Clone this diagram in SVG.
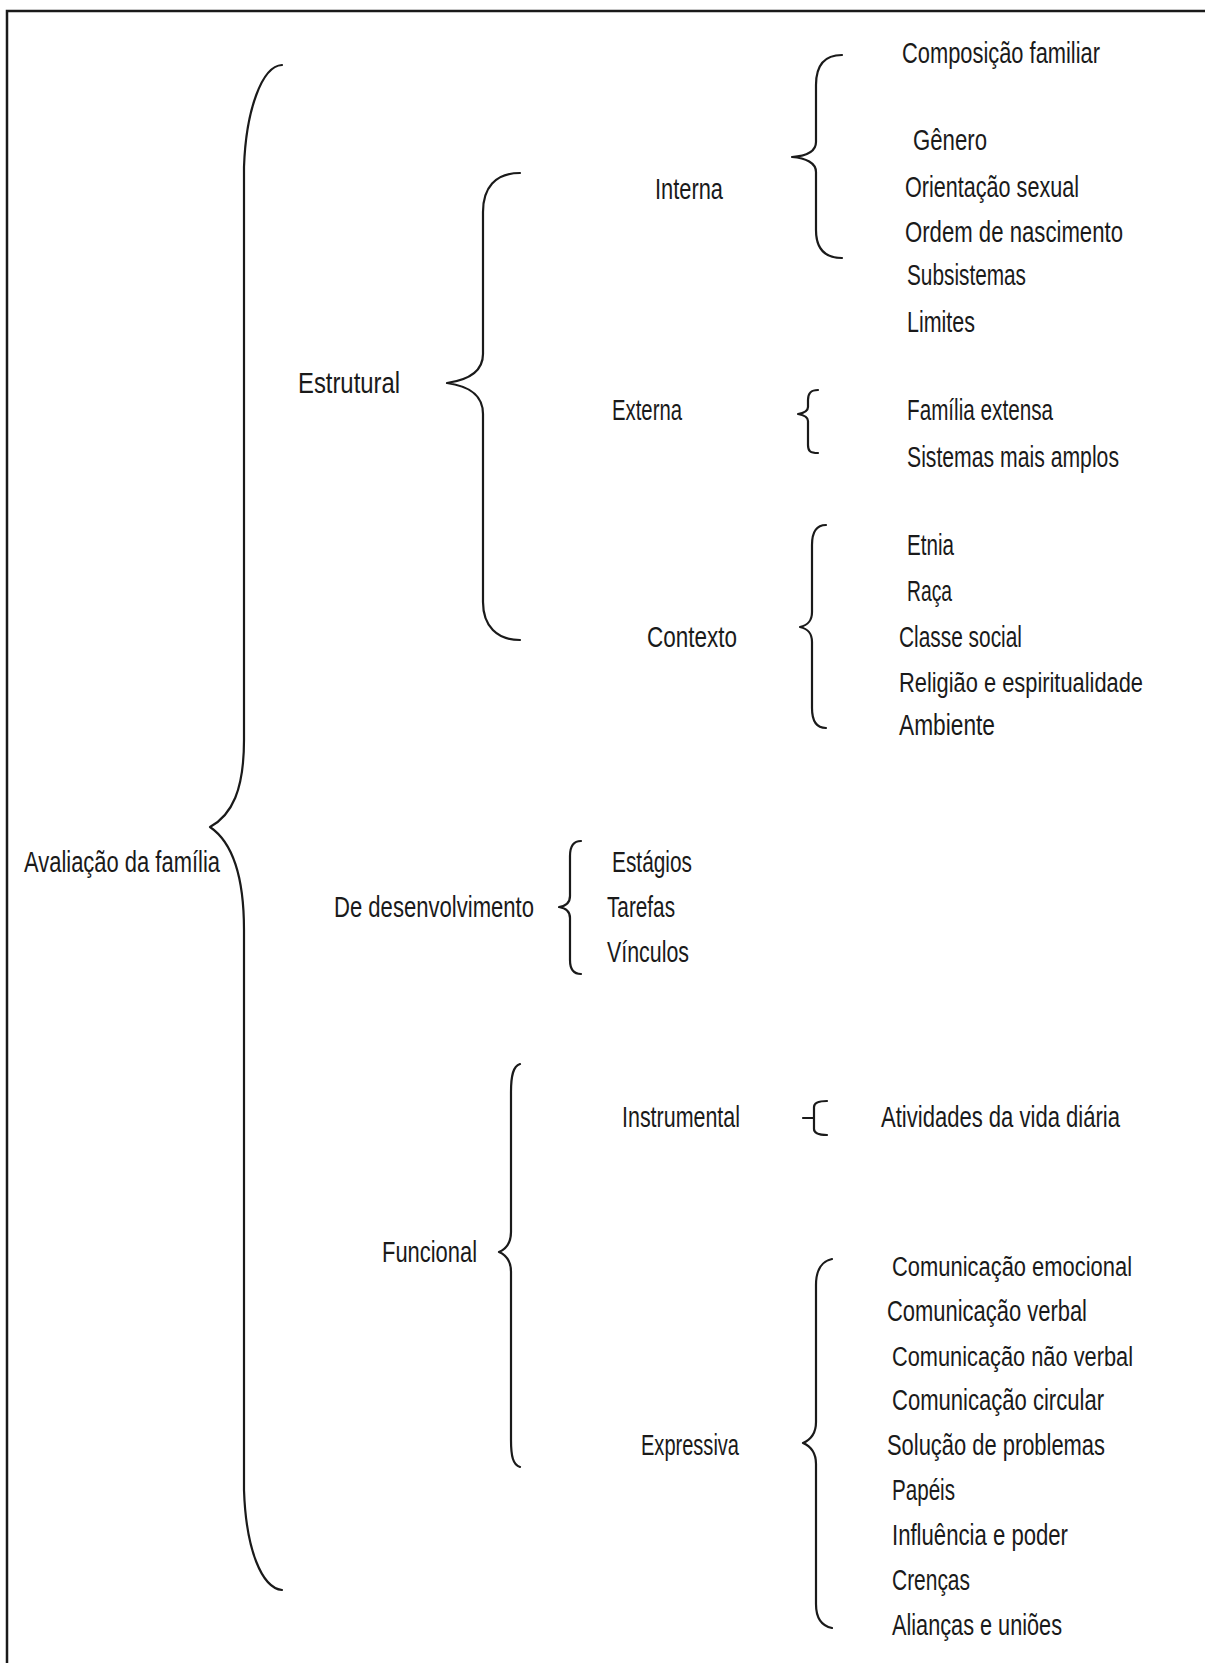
<svg xmlns="http://www.w3.org/2000/svg" width="1205" height="1663" viewBox="0 0 1205 1663">
  <style>
    text { font-family: "Liberation Sans", Arial, sans-serif; font-size: 29px; fill: #1a1a1a; }
    text.long { font-size: 27px; }
    .brace { fill: none; stroke: #1a1a1a; stroke-width: 2.2; stroke-linecap: round; stroke-linejoin: round; }
    .frame { fill: none; stroke: #1a1a1a; stroke-width: 2.5; }
  </style>
  <rect width="1205" height="1663" fill="#ffffff"/>

  <!-- page frame (top and left rules) -->
  <path class="frame" d="M7,1663 L7,11 L1205,11"/>

  <!-- braces linking each level to the next -->
  <g id="connectors">
    <!-- Avaliação da família -->
    <path class="brace" d="M282,65 C262,66 246,110 244,167 L244,740 C244,790 232,815 210,827 C232,842 244,875 244,930 L244,1490 C246,1550 262,1588 282,1590"/>
    <!-- Estrutural -->
    <path class="brace" d="M520,173 C495,173 483,188 483,212 L483,354 C483,372 468,380 447,383 C468,386 483,394 483,414 L483,602 C483,626 497,640 520,640"/>
    <!-- Interna -->
    <path class="brace" d="M842,55 C822,55 816,68 816,85 L816,142 C816,152 806,156 792,157 C806,158 816,163 816,172 L816,230 C816,248 824,258 842,258"/>
    <!-- Externa -->
    <path class="brace" d="M818,390 C810,390 808,394 808,400 L808,407 C808,411 804,413 798,414 C804,415 808,417 808,421 L808,445 C808,451 810,453 818,453"/>
    <!-- Contexto -->
    <path class="brace" d="M826,525 C816,525 812,532 812,545 L812,612 C812,621 808,625 800,627 C808,629 812,633 812,642 L812,708 C812,721 816,728 826,728"/>
    <!-- De desenvolvimento -->
    <path class="brace" d="M581,841 C573,841 570,847 570,856 L570,896 C570,902 566,906 559,907 C566,908 570,912 570,918 L570,960 C570,969 573,974 581,974"/>
    <!-- Funcional -->
    <path class="brace" d="M520,1064 C513,1066 511,1076 511,1092 L511,1232 C511,1243 506,1249 499,1252 C506,1255 511,1261 511,1272 L511,1440 C511,1456 513,1465 520,1467"/>
    <!-- Instrumental -->
    <path class="brace" d="M827,1101 C818,1101 814,1103 814,1107 L814,1129 C814,1133 818,1135 827,1135 M803,1118 L814,1118"/>
    <!-- Expressiva -->
    <path class="brace" d="M832,1259 C822,1261 816,1270 816,1285 L816,1422 C816,1434 810,1440 803,1443 C810,1446 816,1452 816,1464 L816,1604 C816,1618 822,1626 832,1628"/>
  </g>

  <g id="avaliacao"><text x="24" y="872" textLength="196" lengthAdjust="spacingAndGlyphs">Avaliação da família</text></g>

  <g id="estrutural"><text x="298" y="393" textLength="102" lengthAdjust="spacingAndGlyphs">Estrutural</text></g>
  <g id="interna"><text x="655" y="199" textLength="68" lengthAdjust="spacingAndGlyphs">Interna</text></g>
  <g id="interna-itens">
    <text x="902" y="63" textLength="198" lengthAdjust="spacingAndGlyphs">Composição familiar</text>
    <text x="913" y="150" textLength="74" lengthAdjust="spacingAndGlyphs">Gênero</text>
    <text x="905" y="197" textLength="174" lengthAdjust="spacingAndGlyphs">Orientação sexual</text>
    <text x="905" y="242" textLength="218" lengthAdjust="spacingAndGlyphs">Ordem de nascimento</text>
    <text x="907" y="285" textLength="119" lengthAdjust="spacingAndGlyphs">Subsistemas</text>
    <text x="907" y="332" textLength="68" lengthAdjust="spacingAndGlyphs">Limites</text>
  </g>
  <g id="externa"><text x="612" y="420" textLength="70" lengthAdjust="spacingAndGlyphs">Externa</text></g>
  <g id="externa-itens">
    <text x="907" y="420" textLength="146" lengthAdjust="spacingAndGlyphs">Família extensa</text>
    <text x="907" y="467" textLength="212" lengthAdjust="spacingAndGlyphs">Sistemas mais amplos</text>
  </g>
  <g id="contexto"><text x="647" y="647" textLength="90" lengthAdjust="spacingAndGlyphs">Contexto</text></g>
  <g id="contexto-itens">
    <text x="907" y="555" textLength="47" lengthAdjust="spacingAndGlyphs">Etnia</text>
    <text x="907" y="601" textLength="45" lengthAdjust="spacingAndGlyphs">Raça</text>
    <text x="899" y="647" textLength="123" lengthAdjust="spacingAndGlyphs">Classe social</text>
    <text class="long" x="899" y="692" textLength="244" lengthAdjust="spacingAndGlyphs">Religião e espiritualidade</text>
    <text x="899" y="735" textLength="96" lengthAdjust="spacingAndGlyphs">Ambiente</text>
  </g>

  <g id="desenvolvimento"><text x="334" y="917" textLength="200" lengthAdjust="spacingAndGlyphs">De desenvolvimento</text></g>
  <g id="desenvolvimento-itens">
    <text x="612" y="872" textLength="80" lengthAdjust="spacingAndGlyphs">Estágios</text>
    <text x="607" y="917" textLength="68" lengthAdjust="spacingAndGlyphs">Tarefas</text>
    <text x="607" y="962" textLength="82" lengthAdjust="spacingAndGlyphs">Vínculos</text>
  </g>

  <g id="funcional"><text x="382" y="1262" textLength="95" lengthAdjust="spacingAndGlyphs">Funcional</text></g>
  <g id="instrumental"><text x="622" y="1127" textLength="118" lengthAdjust="spacingAndGlyphs">Instrumental</text></g>
  <g id="instrumental-itens">
    <text x="881" y="1127" textLength="239" lengthAdjust="spacingAndGlyphs">Atividades da vida diária</text>
  </g>
  <g id="expressiva"><text x="641" y="1455" textLength="98" lengthAdjust="spacingAndGlyphs">Expressiva</text></g>
  <g id="expressiva-itens">
    <text class="long" x="892" y="1276" textLength="240" lengthAdjust="spacingAndGlyphs">Comunicação emocional</text>
    <text x="887" y="1321" textLength="200" lengthAdjust="spacingAndGlyphs">Comunicação verbal</text>
    <text class="long" x="892" y="1366" textLength="241" lengthAdjust="spacingAndGlyphs">Comunicação não verbal</text>
    <text x="892" y="1410" textLength="212" lengthAdjust="spacingAndGlyphs">Comunicação circular</text>
    <text x="887" y="1455" textLength="218" lengthAdjust="spacingAndGlyphs">Solução de problemas</text>
    <text x="892" y="1500" textLength="63" lengthAdjust="spacingAndGlyphs">Papéis</text>
    <text x="892" y="1545" textLength="176" lengthAdjust="spacingAndGlyphs">Influência e poder</text>
    <text x="892" y="1590" textLength="78" lengthAdjust="spacingAndGlyphs">Crenças</text>
    <text x="892" y="1635" textLength="170" lengthAdjust="spacingAndGlyphs">Alianças e uniões</text>
  </g>
</svg>
